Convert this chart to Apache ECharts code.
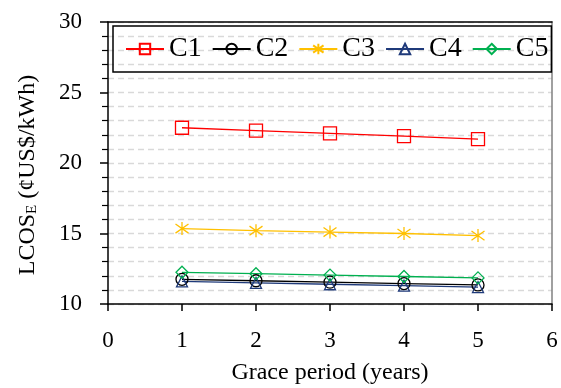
<!DOCTYPE html>
<html>
<head>
<meta charset="utf-8">
<script src="https://cdn.jsdelivr.net/npm/echarts@6/dist/echarts.min.js"></script>
<style>
  html, body { margin: 0; padding: 0; background: #fff; }
  #chart { width: 561px; height: 388px; }
</style>
</head>
<body>
<div id="chart"></div>
<script>
"use strict";

// grace period (years)
var years = [1, 2, 3, 4, 5];
var seriesNames = ['C1', 'C2', 'C3', 'C4', 'C5'];
var c1 = [22.5, 22.3, 22.1, 21.9, 21.7];
var c2 = [11.75, 11.65, 11.55, 11.45, 11.35];
var c3 = [15.35, 15.2, 15.1, 15.0, 14.85];
var c4 = [11.6, 11.5, 11.4, 11.3, 11.2];
var c5 = [12.25, 12.15, 12.05, 11.95, 11.85];
var xTicks = [0, 1, 2, 3, 4, 5, 6];
var yTicks = [10, 15, 20, 25, 30];

var font = '"Liberation Serif", "Times New Roman", serif';
var colors = ['#FF0000', '#000000', '#FFC000', '#1F3A7A', '#00B050'];
var symbols = [
    'rect',
    'circle',
    'path://M5,0L5,10M0.8,1.5L9.2,8.5M9.2,1.5L0.8,8.5',   // asterisk
    'triangle',
    'diamond'
];
var symbolSizes = [13, 12, 13, 11, 12];

function pairs(ys) {
    return years.map(function (x, i) { return [x, ys[i]]; });
}

var values = [c1, c2, c3, c4, c5];

var myChart = echarts.init(document.getElementById('chart'), null, { renderer: 'canvas' });

var series = values.map(function (ys, i) {
    return {
        name: seriesNames[i],
        type: 'line',
        data: pairs(ys),
        symbol: symbols[i],
        symbolSize: symbolSizes[i],
        showAllSymbol: true,
        lineStyle: { color: colors[i], width: 1.3 },
        itemStyle: { color: 'rgba(255,255,255,0)', borderColor: colors[i], borderWidth: 1.3 },
        emphasis: { disabled: true }
    };
});

var option = {
    backgroundColor: '#fff',
    animation: false,
    grid: { left: 108, right: 9, top: 22, bottom: 84, containLabel: false, outerBoundsMode: 'none' },
    legend: {
        data: seriesNames,
        left: 113,
        top: 26,
        padding: [9, 3, 9, 12],
        itemWidth: 38,
        itemHeight: 13,
        itemGap: 10,
        borderColor: '#000',
        borderWidth: 1.5,
        textStyle: { fontFamily: font, fontSize: 28, color: '#000' },
        selectedMode: false
    },
    xAxis: [{
        type: 'value',
        min: xTicks[0],
        max: xTicks[xTicks.length - 1],
        interval: 1,
        name: 'Grace period (years)',
        nameLocation: 'middle',
        nameGap: 57,
        nameTextStyle: { fontFamily: font, fontSize: 24, color: '#000' },
        axisLine: { lineStyle: { color: '#000', width: 1.5 } },
        axisTick: { show: true, length: 7, lineStyle: { color: '#000', width: 1.5 } },
        axisLabel: { fontFamily: font, fontSize: 23, color: '#000', margin: 25 },
        splitLine: { show: false }
    }, {
        type: 'value',
        position: 'top',
        min: xTicks[0],
        max: xTicks[xTicks.length - 1],
        axisLine: { onZero: false, lineStyle: { color: '#000', width: 1.5 } },
        axisTick: { show: false },
        axisLabel: { show: false },
        splitLine: { show: false }
    }],
    yAxis: [{
        type: 'value',
        min: yTicks[0],
        max: yTicks[yTicks.length - 1],
        interval: 5,
        name: 'LCOS{sub|E} (¢US$/kWh)',
        nameLocation: 'middle',
        nameRotate: 90,
        nameGap: 68,
        nameTextStyle: {
            fontFamily: font, fontSize: 24, color: '#000',
            padding: [0, 24, 0, 0],
            rich: {
                sub: { fontFamily: font, fontSize: 15, color: '#000', padding: [9, 0, 0, 0] }
            }
        },
        axisLine: { onZero: false, lineStyle: { color: '#000', width: 1.5 } },
        axisTick: { show: true, length: 8, lineStyle: { color: '#000', width: 1.5 } },
        minorTick: { show: true, splitNumber: 5, length: 6, lineStyle: { color: '#000', width: 1.2 } },
        axisLabel: { fontFamily: font, fontSize: 23, color: '#000', margin: 26 },
        splitLine: { show: true, lineStyle: { color: '#D9D9D9', width: 1.3, type: [6, 4] } },
        minorSplitLine: { show: true, lineStyle: { color: '#D9D9D9', width: 1.3, type: [6, 4] } }
    }, {
        type: 'value',
        position: 'right',
        min: yTicks[0],
        max: yTicks[yTicks.length - 1],
        axisLine: { show: true, onZero: false, lineStyle: { color: '#808080', width: 1.5 } },
        axisTick: { show: false },
        axisLabel: { show: false },
        splitLine: { show: false }
    }],
    series: series
};

myChart.setOption(option);
</script>
</body>
</html>
